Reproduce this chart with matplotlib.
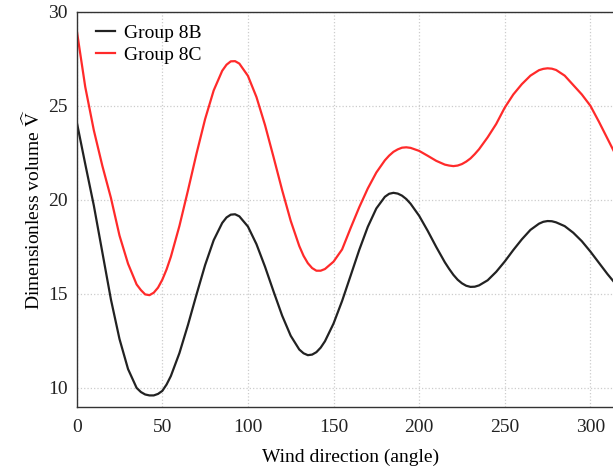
import matplotlib
matplotlib.use('Agg')
import matplotlib.pyplot as plt

# wind direction (deg); extra readings around peaks and troughs
angles = [0, 5, 10, 15, 20, 25, 30, 35, 37.5, 40, 42.5, 45, 47.5, 50, 52.5, 55, 60, 65,
          70, 75, 80, 85, 87.5, 90, 92.5, 95, 100, 105, 110, 115, 120, 125, 130, 132.5,
          135, 137.5, 140, 142.5, 145, 150, 155, 160, 165, 170, 175, 180, 182.5, 185,
          187.5, 190, 192.5, 195, 200, 205, 210, 215, 217.5, 220, 222.5, 225, 227.5, 230,
          232.5, 235, 240, 245, 250, 255, 260, 265, 270, 272.5, 275, 277.5, 280, 285, 290,
          295, 300, 305, 310, 315, 320]

group_8b = [24.15, 21.9, 19.7, 17.2, 14.7, 12.6, 11.0, 10.0, 9.78, 9.65, 9.6, 9.6, 9.68,
            9.84, 10.18, 10.63, 11.85, 13.35, 14.97, 16.53, 17.85, 18.77, 19.06, 19.21,
            19.23, 19.12, 18.58, 17.64, 16.44, 15.12, 13.84, 12.77, 12.04, 11.84, 11.74,
            11.77, 11.90, 12.14, 12.48, 13.42, 14.62, 15.97, 17.33, 18.56, 19.54, 20.16,
            20.32, 20.37, 20.33, 20.22, 20.04, 19.79, 19.15, 18.35, 17.49, 16.68, 16.33,
            16.01, 15.75, 15.56, 15.43, 15.37, 15.38, 15.45, 15.72, 16.17, 16.72, 17.33,
            17.90, 18.40, 18.73, 18.83, 18.87, 18.86, 18.80, 18.60, 18.25, 17.80, 17.25,
            16.65, 16.05, 15.50, 15.15]

group_8c = [29.03, 26.0, 23.7, 21.8, 20.1, 18.1, 16.6, 15.5, 15.2, 14.97, 14.93, 15.06,
            15.33, 15.75, 16.3, 16.97, 18.61, 20.50, 22.46, 24.29, 25.81, 26.86, 27.18,
            27.36, 27.37, 27.24, 26.59, 25.46, 23.97, 22.26, 20.51, 18.88, 17.54, 17.02,
            16.63, 16.37, 16.23, 16.23, 16.32, 16.71, 17.36, 18.5, 19.6, 20.6, 21.45, 22.1,
            22.35, 22.55, 22.68, 22.77, 22.79, 22.76, 22.60, 22.34, 22.07, 21.87, 21.82,
            21.79, 21.82, 21.90, 22.03, 22.20, 22.43, 22.69, 23.32, 24.03, 24.9, 25.6,
            26.15, 26.6, 26.89, 26.96, 26.99, 26.97, 26.9, 26.6, 26.1, 25.6, 25.0, 24.15,
            23.25, 22.35, 21.6]

x_ticks = [0, 50, 100, 150, 200, 250, 300]
y_ticks = [10, 15, 20, 25, 30]

plt.rcParams['font.family'] = ['Liberation Serif', 'DejaVu Serif']

fig = plt.figure(figsize=(6.13, 4.71), dpi=100)
# the original plot runs a little past the right edge of the picture
ax = fig.add_axes([0.1251, 0.1365, 0.893, 0.8387])

ax.plot(angles, group_8b, color='#222222', lw=1.6, label='Group 8B')
ax.plot(angles, group_8c, color='#ff2a2a', lw=1.6, label='Group 8C')

ax.set_xlim(0, 319.7)
ax.set_ylim(9.0, 30)
ax.set_xticks(x_ticks)
ax.set_yticks(y_ticks)
ax.tick_params(length=0, labelsize=14, colors='#222222')
ax.tick_params(axis='x', pad=9)
ax.tick_params(axis='y', pad=6.5)

ax.grid(True, linestyle=':', color='#cccccc', lw=0.9)
for s in ax.spines.values():
    s.set_color('#333333')
    s.set_linewidth(1.0)

ax.set_xlabel('Wind direction (angle)', fontsize=14, labelpad=9)
ax.set_ylabel(r'Dimensionless volume $\widehat{\mathrm{V}}$', fontsize=14, labelpad=3,
              math_fontfamily='stix')

ax.legend(loc='upper left', bbox_to_anchor=(0.0347, 0.968), frameon=False, fontsize=14,
          handlelength=1.0, handletextpad=0.45, borderaxespad=0, borderpad=0,
          labelspacing=0.23)

fig.savefig('out.png', dpi=100)
